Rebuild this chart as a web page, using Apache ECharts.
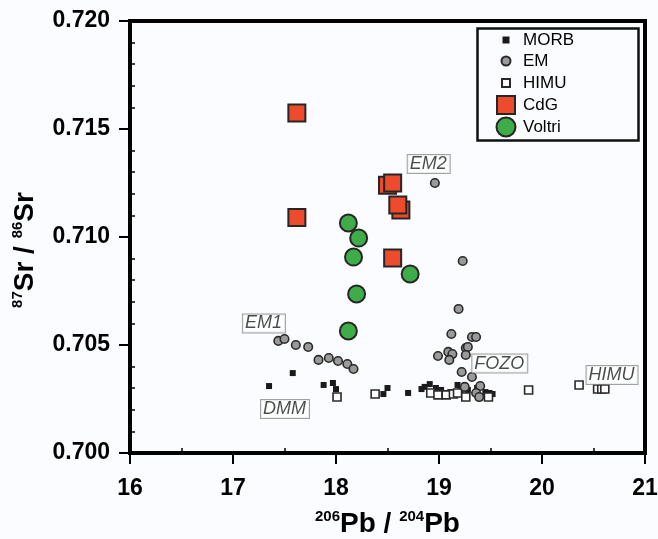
<!DOCTYPE html>
<html><head><meta charset="utf-8">
<script src="https://cdn.jsdelivr.net/npm/echarts@6/dist/echarts.min.js"></script>
<style>html,body{margin:0;padding:0;background:#fbfcff;}#c{width:658px;height:539px;}</style>
</head><body><div id="c"></div>
<script>
const xTicks = [16, 17, 18, 19, 20, 21];
const yTicks = [0.700, 0.705, 0.710, 0.715, 0.720];
const morb = [[17.35,0.70310],[17.58,0.70370],[17.88,0.70315],[17.97,0.70324],[18.00,0.70296],[18.46,0.70273],[18.50,0.70301],[18.70,0.70278],[18.83,0.70296],[18.86,0.70306],[18.91,0.70319],[18.97,0.70301],[19.02,0.70292],[19.11,0.70282],[19.18,0.70315],[19.21,0.70292],[19.28,0.70292],[19.37,0.70301],[19.45,0.70282],[19.49,0.70278],[19.52,0.70273]];
const em = [[17.44,0.70519],[17.50,0.70528],[17.61,0.70500],[17.73,0.70491],[17.83,0.70431],[17.93,0.70440],[18.02,0.70426],[18.11,0.70412],[18.17,0.70389],[18.96,0.71250],[19.23,0.70889],[19.19,0.70667],[19.12,0.70551],[19.32,0.70537],[19.36,0.70537],[18.99,0.70449],[19.09,0.70468],[19.13,0.70458],[19.10,0.70431],[19.26,0.70486],[19.28,0.70491],[19.26,0.70454],[19.22,0.70375],[19.32,0.70352],[19.25,0.70306],[19.40,0.70310],[19.36,0.70278],[19.39,0.70259]];
const himu = [[18.01,0.70259],[18.38,0.70273],[18.92,0.70278],[18.99,0.70269],[19.07,0.70269],[19.14,0.70273],[19.18,0.70278],[19.26,0.70259],[19.48,0.70259],[19.87,0.70292],[20.36,0.70315],[20.54,0.70296],[20.58,0.70296],[20.61,0.70296]];
const cdg = [[17.62,0.71574],[17.62,0.71090],[18.50,0.71240],[18.63,0.71125],[18.55,0.70903],[18.55,0.71250],[18.60,0.71148]];
const voltri = [[18.12,0.71065],[18.22,0.70995],[18.17,0.70907],[18.72,0.70829],[18.20,0.70736],[18.12,0.70565]];
const endmembers = [[17.30,0.70600,'EM1'],[17.505,0.70204,'DMM'],[18.90,0.71338,'EM2'],[19.59,0.70414,'FOZO'],[20.68,0.70361,'HIMU']];
const seriesNames = ['MORB','EM','HIMU','CdG','Voltri'];

const chart = echarts.init(document.getElementById('c'));
const F = '"Liberation Sans", Arial, Helvetica, sans-serif';
const titleRich = {
  s: {fontFamily: F, fontWeight: 'bold', fontSize: 15, verticalAlign: 'top', lineHeight: 30, color: '#000', padding: [0,0,12,0]},
  b: {fontFamily: F, fontWeight: 'bold', fontSize: 28, lineHeight: 30, color: '#000'}
};
const axisCommon = {
  axisLine: {show: true, onZero: false, lineStyle: {color: '#000', width: 4}},
  axisTick: {show: true, inside: false, length: 11, lineStyle: {color: '#000', width: 2}},
  minorTick: {show: true, length: -5, lineStyle: {color: '#000', width: 1.5}},
  splitLine: {show: false},
  axisLabel: {color: '#000', fontFamily: F, fontWeight: 'bold', fontSize: 23}
};
chart.setOption({
  backgroundColor: '#fbfcff',
  animation: false,
  grid: {left: 130, right: 13, top: 21, bottom: 86, outerBoundsMode: 'none', containLabel: false,
         show: true, borderColor: '#000', borderWidth: 4, backgroundColor: '#fbfcff'},
  xAxis: Object.assign({}, axisCommon, {
    type: 'value', min: xTicks[0], max: xTicks[xTicks.length-1], interval: 1,
    minorTick: Object.assign({}, axisCommon.minorTick, {splitNumber: 2}),
    axisLabel: Object.assign({}, axisCommon.axisLabel, {margin: 24}),
    name: '{s|206}{b|Pb / }{s|204}{b|Pb}', nameLocation: 'middle', nameGap: 56,
    nameTextStyle: {rich: titleRich}
  }),
  yAxis: Object.assign({}, axisCommon, {
    type: 'value', min: yTicks[0], max: yTicks[yTicks.length-1], interval: 0.005,
    minorTick: Object.assign({}, axisCommon.minorTick, {splitNumber: 5}),
    axisLabel: Object.assign({}, axisCommon.axisLabel, {margin: 20, formatter: v => v.toFixed(3)}),
    name: '{s|87}{b|Sr / }{s|86}{b|Sr}', nameLocation: 'middle', nameGap: 90, nameRotate: 90,
    nameTextStyle: {rich: titleRich, padding: [0, 26, 0, 0]}
  }),
  legend: {
    orient: 'vertical', left: 495, top: 30, padding: 0,
    itemWidth: 20, itemHeight: 20, itemGap: 0,
    textStyle: {fontFamily: F, fontSize: 17, lineHeight: 20, color: '#000', padding: [0,0,0,2]},
    selectedMode: false,
    data: [
      {name: seriesNames[0], icon: 'path://M0,0M20,20M6.5,6.5L13.5,6.5L13.5,13.5L6.5,13.5Z'},
      {name: seriesNames[1], icon: 'path://M0,0M20,20M5.5,10A4.5,4.5,0,1,1,14.5,10A4.5,4.5,0,1,1,5.5,10Z'},
      {name: seriesNames[2], icon: 'path://M0,0M20,20M6,6L14,6L14,14L6,14Z'},
      {name: seriesNames[3], icon: 'path://M0,0M20,20M1,1L19,1L19,19L1,19Z'},
      {name: seriesNames[4], icon: 'path://M0,0M20,20M0.5,10A9.5,9.5,0,1,1,19.5,10A9.5,9.5,0,1,1,0.5,10Z'}
    ]
  },
  graphic: [{
    type: 'rect', left: 475, top: 26, z: 10,
    shape: {width: 161, height: 112},
    style: {fill: 'none', stroke: '#111', lineWidth: 2.5}
  }],
  series: [
    {name: 'MORB', type: 'scatter', data: morb, symbol: 'rect', symbolSize: 6, z: 2,
     itemStyle: {color: '#1a1a1a', opacity: 1}},
    {name: 'HIMU', type: 'scatter', data: himu, symbol: 'rect', symbolSize: 8, z: 3,
     itemStyle: {color: '#ffffff', borderColor: '#2a2a2a', borderWidth: 1.6, opacity: 1}},
    {name: 'EM', type: 'scatter', data: em, symbol: 'circle', symbolSize: 8.5, z: 4,
     itemStyle: {color: '#9a9a9a', borderColor: '#2a2a2a', borderWidth: 1.6, opacity: 1}},
    {name: 'CdG', type: 'scatter', data: cdg, symbol: 'rect', symbolSize: 17, z: 5,
     itemStyle: {color: '#ee4a2c', borderColor: '#262626', borderWidth: 2, opacity: 1}},
    {name: 'Voltri', type: 'scatter', data: voltri, symbol: 'circle', symbolSize: 17, z: 6,
     itemStyle: {color: '#3fac4a', borderColor: '#262626', borderWidth: 2, opacity: 1}},
    {name: 'labels', type: 'scatter', data: endmembers, symbolSize: 0, z: 7, silent: true,
     encode: {x: 0, y: 1},
     label: {show: true, position: 'inside', formatter: p => p.data[2],
       fontFamily: F, fontStyle: 'italic', fontSize: 18, color: '#1e1e1e',
       backgroundColor: '#ffffff', borderColor: '#8a8a8a', borderWidth: 1,
       padding: [1, 3, 0, 2], lineHeight: 17}}
  ]
});
</script></body></html>
